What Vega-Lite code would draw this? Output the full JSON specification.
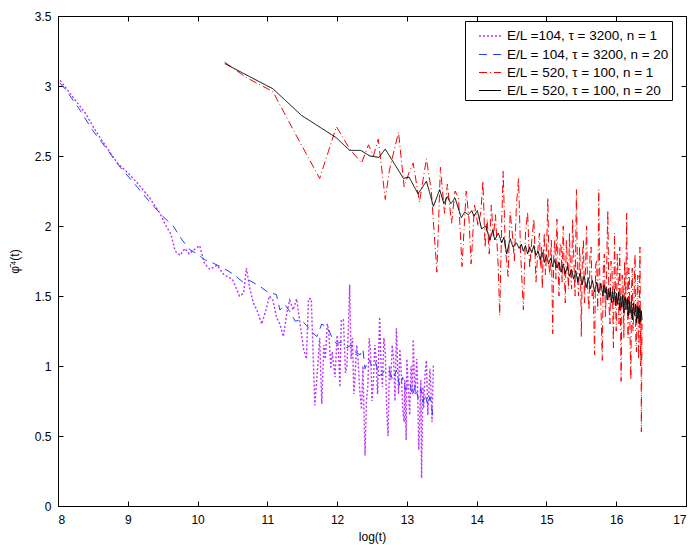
{
  "$schema": "https://vega.github.io/schema/vega-lite/v6.json",
  "width": 628,
  "height": 490,
  "autosize": "none",
  "padding": {"left": 58, "top": 16, "right": 13, "bottom": 39},
  "background": "white",
  "config": {
    "view": {"stroke": "black", "strokeWidth": 1},
    "font": "Liberation Sans",
    "axis": {
      "grid": false,
      "domainColor": "black",
      "tickColor": "black",
      "tickSize": -5,
      "labelColor": "black",
      "labelFont": "Liberation Sans",
      "labelFontSize": 12,
      "titleFont": "Liberation Sans",
      "titleFontSize": 12,
      "titleFontWeight": "normal",
      "titleColor": "black"
    }
  },
  "data": {
    "values": [
      {"s": "1", "x": 8.03, "y": 3.04}, {"s": "1", "x": 8.2, "y": 2.93}, {"s": "1", "x": 8.4, "y": 2.8},
      {"s": "1", "x": 8.55, "y": 2.67}, {"s": "1", "x": 8.7, "y": 2.56}, {"s": "1", "x": 8.85, "y": 2.45},
      {"s": "1", "x": 9.0, "y": 2.38}, {"s": "1", "x": 9.15, "y": 2.3}, {"s": "1", "x": 9.3, "y": 2.21},
      {"s": "1", "x": 9.45, "y": 2.1}, {"s": "1", "x": 9.55, "y": 2.0}, {"s": "1", "x": 9.62, "y": 1.94},
      {"s": "1", "x": 9.68, "y": 1.82}, {"s": "1", "x": 9.75, "y": 1.79}, {"s": "1", "x": 9.82, "y": 1.84},
      {"s": "1", "x": 9.88, "y": 1.8}, {"s": "1", "x": 9.95, "y": 1.83}, {"s": "1", "x": 10.03, "y": 1.86},
      {"s": "1", "x": 10.1, "y": 1.73}, {"s": "1", "x": 10.18, "y": 1.69}, {"s": "1", "x": 10.28, "y": 1.72},
      {"s": "1", "x": 10.38, "y": 1.65}, {"s": "1", "x": 10.5, "y": 1.62}, {"s": "1", "x": 10.6, "y": 1.5},
      {"s": "1", "x": 10.66, "y": 1.52}, {"s": "1", "x": 10.7, "y": 1.7}, {"s": "1", "x": 10.75, "y": 1.55},
      {"s": "1", "x": 10.8, "y": 1.45}, {"s": "1", "x": 10.85, "y": 1.4}, {"s": "1", "x": 10.92, "y": 1.3},
      {"s": "1", "x": 10.98, "y": 1.4}, {"s": "1", "x": 11.03, "y": 1.5}, {"s": "1", "x": 11.08, "y": 1.47},
      {"s": "1", "x": 11.13, "y": 1.35}, {"s": "1", "x": 11.18, "y": 1.3}, {"s": "1", "x": 11.23, "y": 1.21},
      {"s": "1", "x": 11.28, "y": 1.38}, {"s": "1", "x": 11.32, "y": 1.47}, {"s": "1", "x": 11.37, "y": 1.4},
      {"s": "1", "x": 11.42, "y": 1.48}, {"s": "1", "x": 11.47, "y": 1.3}, {"s": "1", "x": 11.52, "y": 1.12},
      {"s": "1", "x": 11.56, "y": 1.05}, {"s": "1", "x": 11.59, "y": 1.48}, {"s": "1", "x": 11.63, "y": 1.48},
      {"s": "1", "x": 11.68, "y": 0.72}, {"s": "1", "x": 11.72, "y": 0.98}, {"s": "1", "x": 11.75, "y": 1.2},
      {"s": "1", "x": 11.78, "y": 0.73}, {"s": "1", "x": 11.81, "y": 1.15}, {"s": "1", "x": 11.83, "y": 1.05},
      {"s": "1", "x": 11.86, "y": 1.3}, {"s": "1", "x": 11.88, "y": 1.25}, {"s": "1", "x": 11.91, "y": 0.98},
      {"s": "1", "x": 11.93, "y": 1.1}, {"s": "1", "x": 11.97, "y": 0.92}, {"s": "1", "x": 12.0, "y": 1.22},
      {"s": "1", "x": 12.02, "y": 1.1}, {"s": "1", "x": 12.04, "y": 0.85}, {"s": "1", "x": 12.06, "y": 1.33},
      {"s": "1", "x": 12.09, "y": 1.33}, {"s": "1", "x": 12.12, "y": 0.95}, {"s": "1", "x": 12.14, "y": 1.0},
      {"s": "1", "x": 12.16, "y": 1.25}, {"s": "1", "x": 12.18, "y": 1.58}, {"s": "1", "x": 12.2, "y": 1.05},
      {"s": "1", "x": 12.22, "y": 1.2}, {"s": "1", "x": 12.24, "y": 0.8}, {"s": "1", "x": 12.26, "y": 0.95},
      {"s": "1", "x": 12.28, "y": 1.15}, {"s": "1", "x": 12.3, "y": 1.05}, {"s": "1", "x": 12.32, "y": 0.85},
      {"s": "1", "x": 12.35, "y": 0.69}, {"s": "1", "x": 12.37, "y": 1.0}, {"s": "1", "x": 12.4, "y": 0.36},
      {"s": "1", "x": 12.42, "y": 0.75}, {"s": "1", "x": 12.44, "y": 0.85}, {"s": "1", "x": 12.46, "y": 1.2},
      {"s": "1", "x": 12.48, "y": 1.1}, {"s": "1", "x": 12.5, "y": 0.75}, {"s": "1", "x": 12.52, "y": 0.9},
      {"s": "1", "x": 12.54, "y": 1.15}, {"s": "1", "x": 12.56, "y": 1.05}, {"s": "1", "x": 12.58, "y": 0.8},
      {"s": "1", "x": 12.61, "y": 1.35}, {"s": "1", "x": 12.63, "y": 1.0}, {"s": "1", "x": 12.65, "y": 0.85},
      {"s": "1", "x": 12.67, "y": 1.2}, {"s": "1", "x": 12.69, "y": 1.1}, {"s": "1", "x": 12.71, "y": 0.7},
      {"s": "1", "x": 12.73, "y": 0.5}, {"s": "1", "x": 12.75, "y": 1.0}, {"s": "1", "x": 12.77, "y": 0.9},
      {"s": "1", "x": 12.79, "y": 1.15}, {"s": "1", "x": 12.81, "y": 1.05}, {"s": "1", "x": 12.83, "y": 0.75},
      {"s": "1", "x": 12.85, "y": 1.27}, {"s": "1", "x": 12.87, "y": 0.95}, {"s": "1", "x": 12.88, "y": 0.8},
      {"s": "1", "x": 12.9, "y": 1.12}, {"s": "1", "x": 12.92, "y": 0.95}, {"s": "1", "x": 12.94, "y": 0.7},
      {"s": "1", "x": 12.96, "y": 0.6}, {"s": "1", "x": 12.97, "y": 0.9}, {"s": "1", "x": 12.99, "y": 0.47},
      {"s": "1", "x": 13.0, "y": 1.05}, {"s": "1", "x": 13.02, "y": 0.85}, {"s": "1", "x": 13.04, "y": 0.65},
      {"s": "1", "x": 13.06, "y": 1.0}, {"s": "1", "x": 13.08, "y": 0.8}, {"s": "1", "x": 13.09, "y": 1.19},
      {"s": "1", "x": 13.11, "y": 0.9}, {"s": "1", "x": 13.12, "y": 0.8}, {"s": "1", "x": 13.14, "y": 1.05},
      {"s": "1", "x": 13.15, "y": 0.95}, {"s": "1", "x": 13.17, "y": 0.4}, {"s": "1", "x": 13.18, "y": 0.55},
      {"s": "1", "x": 13.2, "y": 0.9}, {"s": "1", "x": 13.21, "y": 0.2}, {"s": "1", "x": 13.23, "y": 0.85},
      {"s": "1", "x": 13.24, "y": 0.7}, {"s": "1", "x": 13.26, "y": 0.95}, {"s": "1", "x": 13.28, "y": 1.04},
      {"s": "1", "x": 13.3, "y": 0.65}, {"s": "1", "x": 13.31, "y": 0.75}, {"s": "1", "x": 13.33, "y": 0.98},
      {"s": "1", "x": 13.34, "y": 0.9}, {"s": "1", "x": 13.36, "y": 0.6}, {"s": "1", "x": 13.38, "y": 1.01},

      {"s": "2", "x": 8.03, "y": 3.02}, {"s": "2", "x": 8.1, "y": 2.98}, {"s": "2", "x": 8.3, "y": 2.84},
      {"s": "2", "x": 8.5, "y": 2.68}, {"s": "2", "x": 8.7, "y": 2.55}, {"s": "2", "x": 8.89, "y": 2.42},
      {"s": "2", "x": 9.1, "y": 2.3}, {"s": "2", "x": 9.3, "y": 2.18}, {"s": "2", "x": 9.5, "y": 2.07},
      {"s": "2", "x": 9.65, "y": 2.0}, {"s": "2", "x": 9.78, "y": 1.9}, {"s": "2", "x": 9.89, "y": 1.83},
      {"s": "2", "x": 10.0, "y": 1.8}, {"s": "2", "x": 10.1, "y": 1.76}, {"s": "2", "x": 10.2, "y": 1.74},
      {"s": "2", "x": 10.37, "y": 1.7}, {"s": "2", "x": 10.5, "y": 1.66}, {"s": "2", "x": 10.65, "y": 1.6},
      {"s": "2", "x": 10.75, "y": 1.61}, {"s": "2", "x": 10.89, "y": 1.57}, {"s": "2", "x": 11.0, "y": 1.53},
      {"s": "2", "x": 11.13, "y": 1.51}, {"s": "2", "x": 11.18, "y": 1.4}, {"s": "2", "x": 11.25, "y": 1.44},
      {"s": "2", "x": 11.32, "y": 1.39}, {"s": "2", "x": 11.4, "y": 1.32}, {"s": "2", "x": 11.48, "y": 1.33},
      {"s": "2", "x": 11.56, "y": 1.29}, {"s": "2", "x": 11.62, "y": 1.25}, {"s": "2", "x": 11.71, "y": 1.21},
      {"s": "2", "x": 11.78, "y": 1.3}, {"s": "2", "x": 11.87, "y": 1.27}, {"s": "2", "x": 11.93, "y": 1.2},
      {"s": "2", "x": 11.99, "y": 1.16}, {"s": "2", "x": 12.06, "y": 1.17}, {"s": "2", "x": 12.14, "y": 1.13},
      {"s": "2", "x": 12.2, "y": 1.15}, {"s": "2", "x": 12.26, "y": 1.1}, {"s": "2", "x": 12.33, "y": 1.08},
      {"s": "2", "x": 12.37, "y": 1.12}, {"s": "2", "x": 12.4, "y": 0.98}, {"s": "2", "x": 12.45, "y": 1.05},
      {"s": "2", "x": 12.5, "y": 1.0}, {"s": "2", "x": 12.55, "y": 1.03}, {"s": "2", "x": 12.6, "y": 0.93},
      {"s": "2", "x": 12.64, "y": 0.94}, {"s": "2", "x": 12.7, "y": 0.98}, {"s": "2", "x": 12.76, "y": 0.95},
      {"s": "2", "x": 12.8, "y": 0.9}, {"s": "2", "x": 12.85, "y": 0.97}, {"s": "2", "x": 12.9, "y": 0.85},
      {"s": "2", "x": 12.94, "y": 0.92}, {"s": "2", "x": 12.98, "y": 0.83}, {"s": "2", "x": 13.04, "y": 0.88},
      {"s": "2", "x": 13.08, "y": 0.79}, {"s": "2", "x": 13.12, "y": 0.86}, {"s": "2", "x": 13.16, "y": 0.77},
      {"s": "2", "x": 13.2, "y": 0.84}, {"s": "2", "x": 13.23, "y": 0.74}, {"s": "2", "x": 13.26, "y": 0.8},
      {"s": "2", "x": 13.3, "y": 0.72}, {"s": "2", "x": 13.33, "y": 0.78}, {"s": "2", "x": 13.35, "y": 0.73},
      {"s": "2", "x": 13.37, "y": 0.65},

      {"s": "3", "x": 10.39, "y": 3.17}, {"s": "3", "x": 10.7, "y": 3.06}, {"s": "3", "x": 11.08, "y": 2.96},
      {"s": "3", "x": 11.4, "y": 2.66}, {"s": "3", "x": 11.75, "y": 2.34}, {"s": "3", "x": 11.99, "y": 2.71},
      {"s": "3", "x": 12.18, "y": 2.55}, {"s": "3", "x": 12.35, "y": 2.45}, {"s": "3", "x": 12.45, "y": 2.58},
      {"s": "3", "x": 12.52, "y": 2.5}, {"s": "3", "x": 12.59, "y": 2.62}, {"s": "3", "x": 12.69, "y": 2.19},
      {"s": "3", "x": 12.75, "y": 2.4}, {"s": "3", "x": 12.88, "y": 2.67}, {"s": "3", "x": 12.96, "y": 2.28},
      {"s": "3", "x": 13.03, "y": 2.38}, {"s": "3", "x": 13.09, "y": 2.45}, {"s": "3", "x": 13.18, "y": 2.17},
      {"s": "3", "x": 13.28, "y": 2.48}, {"s": "3", "x": 13.35, "y": 2.25}, {"s": "3", "x": 13.43, "y": 1.67},
      {"s": "3", "x": 13.48, "y": 2.42}, {"s": "3", "x": 13.54, "y": 2.09}, {"s": "3", "x": 13.58, "y": 2.3},
      {"s": "3", "x": 13.64, "y": 2.02}, {"s": "3", "x": 13.69, "y": 2.25}, {"s": "3", "x": 13.74, "y": 2.2},
      {"s": "3", "x": 13.79, "y": 1.71}, {"s": "3", "x": 13.85, "y": 2.25}, {"s": "3", "x": 13.89, "y": 2.05},
      {"s": "3", "x": 13.92, "y": 1.73}, {"s": "3", "x": 13.97, "y": 2.15}, {"s": "3", "x": 14.02, "y": 2.0},
      {"s": "3", "x": 14.06, "y": 2.1}, {"s": "3", "x": 14.09, "y": 2.32}, {"s": "3", "x": 14.12, "y": 1.85},
      {"s": "3", "x": 14.15, "y": 2.05}, {"s": "3", "x": 14.18, "y": 1.8}, {"s": "3", "x": 14.21, "y": 2.15},
      {"s": "3", "x": 14.24, "y": 1.92}, {"s": "3", "x": 14.27, "y": 2.08}, {"s": "3", "x": 14.31, "y": 1.7},
      {"s": "3", "x": 14.33, "y": 1.36}, {"s": "3", "x": 14.36, "y": 2.05}, {"s": "3", "x": 14.38, "y": 2.39},
      {"s": "3", "x": 14.41, "y": 1.85}, {"s": "3", "x": 14.45, "y": 1.64}, {"s": "3", "x": 14.48, "y": 2.1},
      {"s": "3", "x": 14.51, "y": 1.95}, {"s": "3", "x": 14.54, "y": 1.75}, {"s": "3", "x": 14.57, "y": 2.15},
      {"s": "3", "x": 14.6, "y": 2.34}, {"s": "3", "x": 14.63, "y": 1.8}, {"s": "3", "x": 14.67, "y": 1.4},
      {"s": "3", "x": 14.7, "y": 1.95}, {"s": "3", "x": 14.73, "y": 2.1}, {"s": "3", "x": 14.76, "y": 1.7},
      {"s": "3", "x": 14.79, "y": 1.9}, {"s": "3", "x": 14.82, "y": 2.05}, {"s": "3", "x": 14.85, "y": 1.6},
      {"s": "3", "x": 14.88, "y": 1.85}, {"s": "3", "x": 14.9, "y": 1.95}, {"s": "3", "x": 14.915, "y": 1.7},
      {"s": "3", "x": 14.93, "y": 1.85}, {"s": "3", "x": 14.94, "y": 1.55}, {"s": "3", "x": 14.955, "y": 1.8},
      {"s": "3", "x": 14.97, "y": 1.95}, {"s": "3", "x": 14.985, "y": 1.65}, {"s": "3", "x": 15.0, "y": 1.78},
      {"s": "3", "x": 15.02, "y": 2.2}, {"s": "3", "x": 15.035, "y": 1.72}, {"s": "3", "x": 15.05, "y": 1.65},
      {"s": "3", "x": 15.07, "y": 1.9}, {"s": "3", "x": 15.09, "y": 1.23}, {"s": "3", "x": 15.105, "y": 1.8},
      {"s": "3", "x": 15.12, "y": 1.9}, {"s": "3", "x": 15.135, "y": 1.62}, {"s": "3", "x": 15.15, "y": 2.05},
      {"s": "3", "x": 15.165, "y": 1.75}, {"s": "3", "x": 15.18, "y": 1.5}, {"s": "3", "x": 15.195, "y": 1.88},
      {"s": "3", "x": 15.21, "y": 1.85}, {"s": "3", "x": 15.225, "y": 1.6}, {"s": "3", "x": 15.24, "y": 2.0},
      {"s": "3", "x": 15.255, "y": 1.7}, {"s": "3", "x": 15.27, "y": 1.45}, {"s": "3", "x": 15.285, "y": 1.9},
      {"s": "3", "x": 15.3, "y": 1.75}, {"s": "3", "x": 15.315, "y": 1.55}, {"s": "3", "x": 15.33, "y": 1.95},
      {"s": "3", "x": 15.345, "y": 1.68}, {"s": "3", "x": 15.36, "y": 1.55}, {"s": "3", "x": 15.375, "y": 2.05},
      {"s": "3", "x": 15.39, "y": 1.8}, {"s": "3", "x": 15.41, "y": 1.5}, {"s": "3", "x": 15.43, "y": 2.26},
      {"s": "3", "x": 15.445, "y": 1.62}, {"s": "3", "x": 15.46, "y": 1.5}, {"s": "3", "x": 15.475, "y": 1.85},
      {"s": "3", "x": 15.49, "y": 1.65}, {"s": "3", "x": 15.5, "y": 1.21}, {"s": "3", "x": 15.515, "y": 1.78},
      {"s": "3", "x": 15.53, "y": 1.9}, {"s": "3", "x": 15.545, "y": 1.45}, {"s": "3", "x": 15.56, "y": 1.7},
      {"s": "3", "x": 15.575, "y": 2.0}, {"s": "3", "x": 15.59, "y": 1.55}, {"s": "3", "x": 15.61, "y": 1.4},
      {"s": "3", "x": 15.625, "y": 1.8}, {"s": "3", "x": 15.64, "y": 1.85}, {"s": "3", "x": 15.655, "y": 1.5},
      {"s": "3", "x": 15.67, "y": 1.55}, {"s": "3", "x": 15.69, "y": 1.08}, {"s": "3", "x": 15.705, "y": 1.72},
      {"s": "3", "x": 15.72, "y": 1.75}, {"s": "3", "x": 15.735, "y": 1.4}, {"s": "3", "x": 15.75, "y": 2.26},
      {"s": "3", "x": 15.765, "y": 1.6}, {"s": "3", "x": 15.78, "y": 1.45}, {"s": "3", "x": 15.8, "y": 1.04},
      {"s": "3", "x": 15.815, "y": 1.7}, {"s": "3", "x": 15.83, "y": 1.8}, {"s": "3", "x": 15.845, "y": 1.35},
      {"s": "3", "x": 15.86, "y": 1.6}, {"s": "3", "x": 15.87, "y": 1.9}, {"s": "3", "x": 15.88, "y": 2.11},
      {"s": "3", "x": 15.895, "y": 1.45}, {"s": "3", "x": 15.91, "y": 1.3}, {"s": "3", "x": 15.925, "y": 1.75},
      {"s": "3", "x": 15.94, "y": 1.7}, {"s": "3", "x": 15.96, "y": 1.13}, {"s": "3", "x": 15.975, "y": 1.95},
      {"s": "3", "x": 15.99, "y": 1.5}, {"s": "3", "x": 16.0, "y": 1.25}, {"s": "3", "x": 16.015, "y": 1.8},
      {"s": "3", "x": 16.03, "y": 1.6}, {"s": "3", "x": 16.04, "y": 1.3}, {"s": "3", "x": 16.05, "y": 1.85},
      {"s": "3", "x": 16.06, "y": 1.4}, {"s": "3", "x": 16.07, "y": 0.89}, {"s": "3", "x": 16.085, "y": 1.65},
      {"s": "3", "x": 16.1, "y": 1.55}, {"s": "3", "x": 16.11, "y": 1.2}, {"s": "3", "x": 16.12, "y": 1.75},
      {"s": "3", "x": 16.135, "y": 1.45}, {"s": "3", "x": 16.15, "y": 2.09}, {"s": "3", "x": 16.16, "y": 1.5},
      {"s": "3", "x": 16.17, "y": 1.2}, {"s": "3", "x": 16.18, "y": 1.7}, {"s": "3", "x": 16.19, "y": 1.6},
      {"s": "3", "x": 16.2, "y": 1.15}, {"s": "3", "x": 16.21, "y": 0.9}, {"s": "3", "x": 16.22, "y": 1.55},
      {"s": "3", "x": 16.23, "y": 1.7}, {"s": "3", "x": 16.24, "y": 1.25}, {"s": "3", "x": 16.25, "y": 1.35},
      {"s": "3", "x": 16.26, "y": 1.6}, {"s": "3", "x": 16.27, "y": 1.8}, {"s": "3", "x": 16.28, "y": 1.2},
      {"s": "3", "x": 16.29, "y": 1.1}, {"s": "3", "x": 16.3, "y": 1.5}, {"s": "3", "x": 16.31, "y": 1.65},
      {"s": "3", "x": 16.32, "y": 1.05}, {"s": "3", "x": 16.33, "y": 1.25}, {"s": "3", "x": 16.34, "y": 1.85},
      {"s": "3", "x": 16.35, "y": 1.0}, {"s": "3", "x": 16.355, "y": 1.4}, {"s": "3", "x": 16.36, "y": 0.53},
      {"s": "3", "x": 16.37, "y": 1.3},

      {"s": "4", "x": 10.39, "y": 3.16}, {"s": "4", "x": 11.08, "y": 2.98}, {"s": "4", "x": 11.49, "y": 2.79},
      {"s": "4", "x": 11.99, "y": 2.63}, {"s": "4", "x": 12.18, "y": 2.54}, {"s": "4", "x": 12.34, "y": 2.54},
      {"s": "4", "x": 12.47, "y": 2.5}, {"s": "4", "x": 12.6, "y": 2.49}, {"s": "4", "x": 12.69, "y": 2.55},
      {"s": "4", "x": 12.95, "y": 2.34}, {"s": "4", "x": 13.03, "y": 2.35}, {"s": "4", "x": 13.16, "y": 2.23},
      {"s": "4", "x": 13.28, "y": 2.32}, {"s": "4", "x": 13.38, "y": 2.14}, {"s": "4", "x": 13.47, "y": 2.26},
      {"s": "4", "x": 13.53, "y": 2.16}, {"s": "4", "x": 13.58, "y": 2.21}, {"s": "4", "x": 13.63, "y": 2.16},
      {"s": "4", "x": 13.69, "y": 2.2}, {"s": "4", "x": 13.78, "y": 2.06}, {"s": "4", "x": 13.83, "y": 2.1},
      {"s": "4", "x": 13.88, "y": 2.08}, {"s": "4", "x": 13.93, "y": 2.11}, {"s": "4", "x": 13.96, "y": 2.07},
      {"s": "4", "x": 14.01, "y": 2.11}, {"s": "4", "x": 14.07, "y": 1.98}, {"s": "4", "x": 14.13, "y": 2.0},
      {"s": "4", "x": 14.19, "y": 1.9}, {"s": "4", "x": 14.23, "y": 1.97}, {"s": "4", "x": 14.26, "y": 1.9},
      {"s": "4", "x": 14.31, "y": 1.95}, {"s": "4", "x": 14.36, "y": 1.88}, {"s": "4", "x": 14.39, "y": 1.92},
      {"s": "4", "x": 14.43, "y": 1.8}, {"s": "4", "x": 14.48, "y": 1.91}, {"s": "4", "x": 14.52, "y": 1.85},
      {"s": "4", "x": 14.57, "y": 1.88}, {"s": "4", "x": 14.61, "y": 1.84}, {"s": "4", "x": 14.64, "y": 1.87},
      {"s": "4", "x": 14.67, "y": 1.82}, {"s": "4", "x": 14.7, "y": 1.86}, {"s": "4", "x": 14.73, "y": 1.8},
      {"s": "4", "x": 14.76, "y": 1.85}, {"s": "4", "x": 14.79, "y": 1.81}, {"s": "4", "x": 14.82, "y": 1.86},
      {"s": "4", "x": 14.85, "y": 1.79}, {"s": "4", "x": 14.88, "y": 1.82}, {"s": "4", "x": 14.91, "y": 1.76},
      {"s": "4", "x": 14.94, "y": 1.81}, {"s": "4", "x": 14.97, "y": 1.74}, {"s": "4", "x": 15.0, "y": 1.79},
      {"s": "4", "x": 15.03, "y": 1.73}, {"s": "4", "x": 15.06, "y": 1.77}, {"s": "4", "x": 15.09, "y": 1.71},
      {"s": "4", "x": 15.12, "y": 1.76}, {"s": "4", "x": 15.15, "y": 1.7}, {"s": "4", "x": 15.18, "y": 1.74},
      {"s": "4", "x": 15.21, "y": 1.67}, {"s": "4", "x": 15.24, "y": 1.73}, {"s": "4", "x": 15.27, "y": 1.66},
      {"s": "4", "x": 15.3, "y": 1.71}, {"s": "4", "x": 15.33, "y": 1.64}, {"s": "4", "x": 15.36, "y": 1.69},
      {"s": "4", "x": 15.39, "y": 1.62}, {"s": "4", "x": 15.42, "y": 1.68}, {"s": "4", "x": 15.45, "y": 1.6},
      {"s": "4", "x": 15.48, "y": 1.66}, {"s": "4", "x": 15.51, "y": 1.58}, {"s": "4", "x": 15.54, "y": 1.64},
      {"s": "4", "x": 15.57, "y": 1.56}, {"s": "4", "x": 15.6, "y": 1.63}, {"s": "4", "x": 15.63, "y": 1.55},
      {"s": "4", "x": 15.66, "y": 1.61}, {"s": "4", "x": 15.69, "y": 1.53}, {"s": "4", "x": 15.72, "y": 1.6},
      {"s": "4", "x": 15.75, "y": 1.52}, {"s": "4", "x": 15.78, "y": 1.59}, {"s": "4", "x": 15.81, "y": 1.5},
      {"s": "4", "x": 15.825, "y": 1.58}, {"s": "4", "x": 15.84, "y": 1.52}, {"s": "4", "x": 15.855, "y": 1.56},
      {"s": "4", "x": 15.87, "y": 1.47}, {"s": "4", "x": 15.885, "y": 1.55}, {"s": "4", "x": 15.9, "y": 1.49},
      {"s": "4", "x": 15.915, "y": 1.56}, {"s": "4", "x": 15.93, "y": 1.45}, {"s": "4", "x": 15.945, "y": 1.53},
      {"s": "4", "x": 15.96, "y": 1.46}, {"s": "4", "x": 15.975, "y": 1.55}, {"s": "4", "x": 15.99, "y": 1.43},
      {"s": "4", "x": 16.005, "y": 1.52}, {"s": "4", "x": 16.02, "y": 1.44}, {"s": "4", "x": 16.035, "y": 1.53},
      {"s": "4", "x": 16.05, "y": 1.4}, {"s": "4", "x": 16.065, "y": 1.5}, {"s": "4", "x": 16.08, "y": 1.42},
      {"s": "4", "x": 16.095, "y": 1.51}, {"s": "4", "x": 16.11, "y": 1.38}, {"s": "4", "x": 16.125, "y": 1.49},
      {"s": "4", "x": 16.14, "y": 1.4}, {"s": "4", "x": 16.155, "y": 1.48}, {"s": "4", "x": 16.17, "y": 1.36},
      {"s": "4", "x": 16.185, "y": 1.47}, {"s": "4", "x": 16.2, "y": 1.38}, {"s": "4", "x": 16.215, "y": 1.46},
      {"s": "4", "x": 16.23, "y": 1.33}, {"s": "4", "x": 16.245, "y": 1.45}, {"s": "4", "x": 16.26, "y": 1.36},
      {"s": "4", "x": 16.275, "y": 1.44}, {"s": "4", "x": 16.29, "y": 1.31}, {"s": "4", "x": 16.3, "y": 1.43},
      {"s": "4", "x": 16.31, "y": 1.34}, {"s": "4", "x": 16.32, "y": 1.42}, {"s": "4", "x": 16.33, "y": 1.3},
      {"s": "4", "x": 16.34, "y": 1.41}, {"s": "4", "x": 16.35, "y": 1.32}, {"s": "4", "x": 16.36, "y": 1.39},
      {"s": "4", "x": 16.37, "y": 1.33}
    ]
  },
  "layer": [
    {
      "mark": {"type": "line", "clip": true},
      "encoding": {
        "x": {
          "field": "x",
          "type": "quantitative",
          "scale": {"domain": [8, 17], "nice": false, "zero": false},
          "axis": {"values": [8, 9, 10, 11, 12, 13, 14, 15, 16, 17], "labelPadding": 13, "title": "log(t)", "titlePadding": 6}
        },
        "y": {
          "field": "y",
          "type": "quantitative",
          "scale": {"domain": [0, 3.5], "nice": false},
          "axis": {"values": [0, 0.5, 1, 1.5, 2, 2.5, 3, 3.5], "format": "~g", "labelPadding": 12, "title": "φ̄⁴(t)", "titlePadding": 13}
        },
        "color": {
          "field": "s",
          "type": "nominal",
          "scale": {"domain": ["1", "2", "3", "4"], "range": ["#b833ff", "#2040ff", "#ff0000", "#000000"]},
          "legend": {
            "title": null,
            "orient": "none",
            "legendX": 407,
            "legendY": 5,
            "symbolType": "stroke",
            "symbolSize": 484,
            "symbolStrokeWidth": 1,
            "symbolOffset": 10,
            "labelOffset": 5,
            "labelFont": "Liberation Sans",
            "labelFontSize": 13.5,
            "labelColor": "black",
            "labelLimit": 300,
            "rowPadding": 0,
            "padding": 3,
            "strokeColor": "black",
            "fillColor": "white",
            "labelExpr": "datum.value == '1' ? 'E/L =104, τ = 3200, n = 1' : datum.value == '2' ? 'E/L = 104, τ = 3200, n = 20' : datum.value == '3' ? 'E/L = 520, τ = 100, n = 1' : 'E/L = 520, τ = 100, n = 20\u00a0\u00a0\u00a0\u00a0'"
          }
        },
        "strokeDash": {
          "field": "s",
          "type": "nominal",
          "scale": {"domain": ["1", "2", "3", "4"], "range": [[2, 2], [8, 6], [8, 3, 1, 3], [1, 0]]},
          "legend": null
        },
        "strokeWidth": {
          "field": "s",
          "type": "nominal",
          "scale": {"type": "ordinal", "domain": ["1", "2", "3", "4"], "range": [1.4, 1, 1, 1]},
          "legend": null
        }
      }
    },
    {
      "mark": {"type": "point", "opacity": 0},
      "encoding": {
        "x": {
          "field": "x",
          "type": "quantitative",
          "axis": {"orient": "top", "values": [8, 9, 10, 11, 12, 13, 14, 15, 16, 17], "labels": false, "title": null}
        },
        "y": {
          "field": "y",
          "type": "quantitative",
          "axis": {"orient": "right", "values": [0, 0.5, 1, 1.5, 2, 2.5, 3, 3.5], "labels": false, "title": null}
        }
      }
    }
  ],
  "resolve": {"axis": {"x": "independent", "y": "independent"}}
}
